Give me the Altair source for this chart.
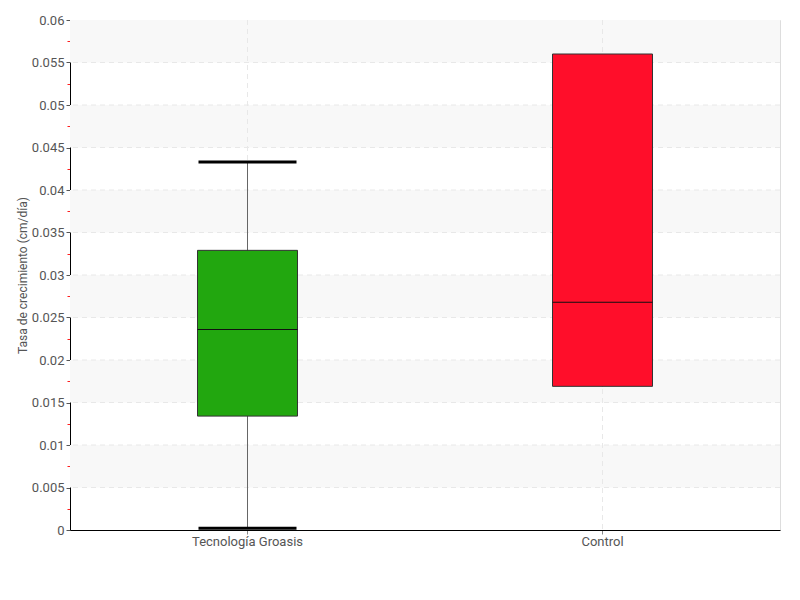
import altair as alt
import pandas as pd

cats = ["Tecnología Groasis", "Control"]
mins = [0.0002, 0.0169]
q1s = [0.0134, 0.0169]
meds = [0.0236, 0.0268]
q3s = [0.0329, 0.056]
maxs = [0.0433, 0.056]
colors = ["#22a70f", "#ff0e2a"]

y_ticks = [0, 0.005, 0.01, 0.015, 0.02, 0.025, 0.03, 0.035, 0.04, 0.045, 0.05, 0.055, 0.06]
minor_ticks = [0.0025, 0.0075, 0.0125, 0.0175, 0.0225, 0.0275, 0.0325, 0.0375,
               0.0425, 0.0475, 0.0525, 0.0575]
band_lo = [0.005, 0.015, 0.025, 0.035, 0.045, 0.055]
band_hi = [0.01, 0.02, 0.03, 0.04, 0.05, 0.06]

FONT = "Roboto, Liberation Sans, sans-serif"

df = pd.DataFrame({"cat": cats, "min": mins, "q1": q1s, "med": meds,
                   "q3": q3s, "max": maxs})
bands = pd.DataFrame({"lo": band_lo, "hi": band_hi})
grid_df = pd.DataFrame({"v": y_ticks[1:-1]})

yscale = alt.Scale(domain=[0, 0.06], nice=False, zero=True)
xscale = alt.Scale(domain=cats, paddingInner=0, paddingOuter=0)

band_layer = alt.Chart(bands).mark_rect(color="#f8f8f8").encode(
    y=alt.Y("lo:Q", scale=yscale, axis=alt.Axis(
        orient="left", values=minor_ticks, labels=False, domain=False, grid=False,
        tickColor="#ff2020", tickSize=3, title=None)),
    y2="hi:Q",
)

hgrid = alt.Chart(grid_df).mark_rule(color="#e8e8e8", strokeDash=[5, 4],
                                     strokeWidth=1).encode(
    y=alt.Y("v:Q", scale=yscale, axis=None))

base = alt.Chart(df)
xenc = alt.X("cat:N", scale=xscale, sort=cats, axis=alt.Axis(
    title=None, labelAngle=0, grid=False,
    bandPosition=0.5, domainColor="black", tickColor="#888", tickSize=4,
    labelFont=FONT, labelColor="#555", labelFontSize=13, labelPadding=1))

vgrid = base.mark_rule(color="#e8e8e8", strokeDash=[5, 4], strokeWidth=1).encode(
    x=xenc)

whisk = base.mark_rule(color="#666", strokeWidth=1).encode(
    x=xenc,
    y=alt.Y("min:Q", scale=yscale, axis=alt.Axis(
        orient="left", values=y_ticks, format="~g", grid=False,
        domainColor="black", tickColor="#555", tickSize=4,
        labelFont=FONT, labelColor="#555", labelFontSize=13, labelPadding=2,
        title="Tasa de crecimiento (cm/día)", titleFont=FONT, titleColor="#555",
        titleFontSize=12, titleFontWeight="normal", titlePadding=2)),
    y2="max:Q",
)

box = base.mark_bar(size=100, stroke="#333", strokeWidth=1).encode(
    x=xenc,
    y=alt.Y("q1:Q", scale=yscale, axis=None),
    y2="q3:Q",
    color=alt.Color("cat:N", scale=alt.Scale(domain=cats, range=colors), legend=None),
)

median = base.mark_tick(color="#111", size=100, thickness=1, opacity=1).encode(
    x=xenc,
    y=alt.Y("med:Q", scale=yscale, axis=None),
)

cap_hi = base.transform_filter("datum.max > datum.q3").mark_tick(
    color="black", size=98, thickness=3, opacity=1).encode(
    x=xenc, y=alt.Y("max:Q", scale=yscale, axis=None))
cap_lo = base.transform_filter("datum.min < datum.q1").mark_tick(
    color="black", size=98, thickness=3, opacity=1).encode(
    x=xenc, y=alt.Y("min:Q", scale=yscale, axis=None))

chart = alt.layer(band_layer, hgrid, vgrid, whisk, box, median, cap_hi, cap_lo).resolve_axis(
    y="independent").properties(
    width=710, height=510, autosize="none",
    padding={"left": 62, "top": 12, "right": 12, "bottom": 62},
).configure_view(stroke=None).configure(background="white")

chart.save("out.html", embed_options={"renderer": "svg", "actions": False})
